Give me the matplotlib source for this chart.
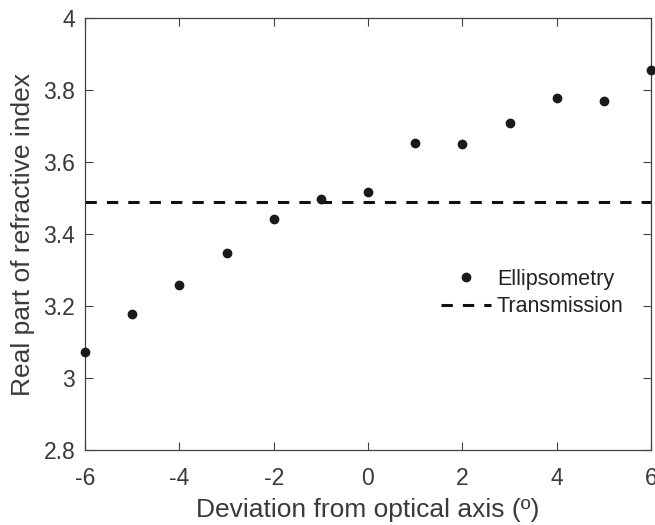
import matplotlib
matplotlib.use('Agg')
import matplotlib.pyplot as plt
from matplotlib.ticker import FuncFormatter

# Ellipsometry measurements vs. deviation angle
deviation = [-6, -5, -4, -3, -2, -1, 0, 1, 2, 3, 4, 5, 6]
n_ellipsometry = [3.071, 3.178, 3.259, 3.347, 3.441, 3.496, 3.518,
                  3.652, 3.650, 3.708, 3.778, 3.770, 3.855]
# Transmission result is a single constant value
n_transmission = 3.488

x_ticks = [-6, -4, -2, 0, 2, 4, 6]
y_ticks = [2.8, 3.0, 3.2, 3.4, 3.6, 3.8, 4.0]

plt.rcParams['font.family'] = ['Liberation Sans', 'DejaVu Sans']
axis_color = '#404040'
text_color = '#3a3a3a'

W, H = 655, 525
left, right, top, bottom = 85, 651, 18, 450

fig = plt.figure(figsize=(W / 100, H / 100), dpi=100)
ax = fig.add_axes([left / W, 1 - bottom / H, (right - left) / W, (bottom - top) / H])

ax.plot(deviation, n_ellipsometry, 'o', color='#1a1a1a', markersize=6,
        linestyle='none', label='Ellipsometry', clip_on=False, zorder=3)
ax.axhline(n_transmission, color='#111111', linewidth=2.2,
           dashes=(3.7, 3.3), label='Transmission')

ax.set_xlim(-6, 6)
ax.set_ylim(2.8, 4.0)
ax.set_xticks(x_ticks)
ax.set_yticks(y_ticks)
ax.yaxis.set_major_formatter(FuncFormatter(lambda v, p: '{0:g}'.format(round(v, 2))))
ax.xaxis.set_major_formatter(FuncFormatter(lambda v, p: '{0:g}'.format(v)))

ax.tick_params(direction='in', top=True, right=True, length=5.5, width=0.8,
               colors=axis_color, labelcolor=text_color, labelsize=16.5, pad=7)
ax.tick_params(axis='x', pad=12)
for s in ax.spines.values():
    s.set_color(axis_color)
    s.set_linewidth(0.9)

ax.set_xlabel('Deviation from optical axis (º)', fontsize=19, color=text_color, labelpad=6)
ax.set_ylabel('Real part of refractive index', fontsize=19, color=text_color, labelpad=6)

ax.legend(loc='upper left',
          bbox_to_anchor=((441 - left) / (right - left), (bottom - 269) / (bottom - top)),
          frameon=False, fontsize=15.5, handlelength=2.3, handletextpad=0.3,
          borderpad=0, labelspacing=0.3, borderaxespad=0, labelcolor='#222222')

fig.savefig('out.png', dpi=100)
